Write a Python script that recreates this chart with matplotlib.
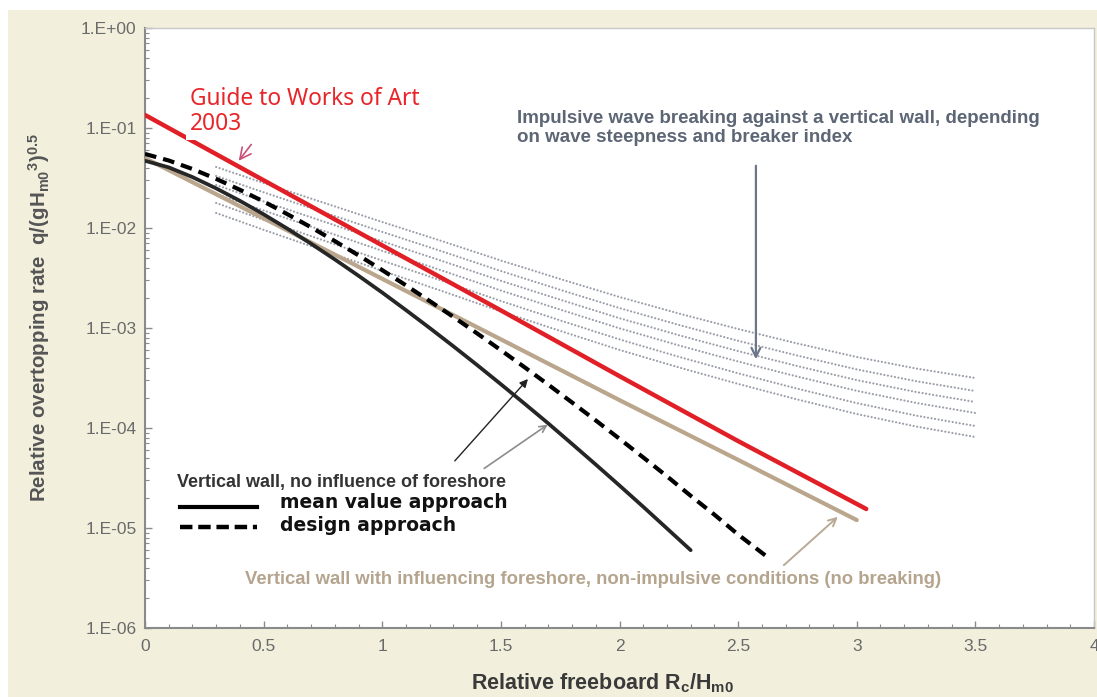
import numpy as np
import matplotlib
matplotlib.use("Agg")
import matplotlib.pyplot as plt
from matplotlib.patches import Rectangle
from matplotlib.ticker import FixedLocator, MultipleLocator, LogLocator, NullFormatter

plt.rcParams['font.family'] = ['Liberation Sans', 'DejaVu Sans']
plt.rcParams['mathtext.fontset'] = 'custom'
plt.rcParams['mathtext.rm'] = 'Liberation Sans:bold'
plt.rcParams['mathtext.it'] = 'Liberation Sans:bold'
plt.rcParams['mathtext.bf'] = 'Liberation Sans:bold'
plt.rcParams['mathtext.default'] = 'rm'

# red line: Guide to Works of Art 2003
gwa_x = [0, 0.5, 1.0, 1.5, 2.0, 2.5, 3.04]
gwa_q = [0.135, 0.030, 0.0067, 0.0015, 3.3e-4, 7.4e-5, 1.55e-5]

# vertical wall, no foreshore influence - mean value approach
mean_x = [0, 0.1, 0.2, 0.3, 0.4, 0.5, 0.6, 0.7, 0.8, 0.9, 1.0, 1.1, 1.2,
          1.3, 1.4, 1.5, 1.6, 1.7, 1.8, 1.9, 2.0, 2.1, 2.2, 2.3]
mean_q = [0.047, 0.0404, 0.0323, 0.0249, 0.0187, 0.0137, 0.00985, 0.00696, 0.00485, 0.00333,
          0.00226, 0.00151, 0.00100, 6.56e-4, 4.26e-4, 2.74e-4, 1.75e-4, 1.11e-4, 6.93e-5,
          4.31e-5, 2.66e-5, 1.63e-5, 9.9e-6, 6.0e-6]

# vertical wall, no foreshore influence - design approach
design_x = [0, 0.1, 0.2, 0.3, 0.4, 0.5, 0.6, 0.7, 0.8, 0.9, 1.0, 1.1, 1.2, 1.3,
            1.4, 1.5, 1.6, 1.7, 1.8, 1.9, 2.0, 2.1, 2.2, 2.3, 2.4, 2.5, 2.62]
design_q = [0.055, 0.0473, 0.0389, 0.0310, 0.0241, 0.0184, 0.01376, 0.01016, 0.0074, 0.00533,
            0.00379, 0.00267, 0.00186, 0.00129, 8.83e-4, 6.0e-4, 4.05e-4, 2.71e-4, 1.80e-4,
            1.19e-4, 7.8e-5, 5.08e-5, 3.29e-5, 2.1e-5, 1.36e-5, 8.6e-6, 5.2e-6]

# vertical wall with influencing foreshore (non-impulsive)
fore_x = [0, 0.5, 1.0, 1.5, 2.0, 2.5, 3.0]
fore_q = [0.05, 0.0125, 3.1e-3, 7.7e-4, 1.9e-4, 4.8e-5, 1.2e-5]

# impulsive breaking, family of dotted curves (log10 of q)
imp_x = [0.3, 0.5, 0.75, 1.0, 1.25, 1.5, 1.75, 2.0, 2.25, 2.5, 2.75, 3.0, 3.25, 3.5]
imp_log1 = [-1.390, -1.550, -1.745, -1.940, -2.130, -2.325, -2.510, -2.690, -2.855, -3.010, -3.155, -3.290, -3.405, -3.500]
imp_log2 = [-1.480, -1.643, -1.841, -2.039, -2.232, -2.430, -2.618, -2.801, -2.969, -3.128, -3.276, -3.414, -3.532, -3.630]
imp_log3 = [-1.570, -1.734, -1.933, -2.133, -2.328, -2.528, -2.717, -2.902, -3.072, -3.231, -3.381, -3.521, -3.640, -3.740]
imp_log4 = [-1.660, -1.825, -2.026, -2.228, -2.424, -2.625, -2.816, -3.003, -3.174, -3.335, -3.486, -3.628, -3.749, -3.850]
imp_log5 = [-1.750, -1.918, -2.122, -2.326, -2.526, -2.730, -2.924, -3.114, -3.288, -3.453, -3.607, -3.751, -3.876, -3.980]
imp_log6 = [-1.850, -2.018, -2.223, -2.428, -2.629, -2.834, -3.029, -3.219, -3.394, -3.559, -3.715, -3.860, -3.985, -4.090]

x_ticks = [0, 0.5, 1, 1.5, 2, 2.5, 3, 3.5, 4]
x_labels = ['0', '0.5', '1', '1.5', '2', '2.5', '3', '3.5', '4']
y_ticks = [1e-6, 1e-5, 1e-4, 1e-3, 1e-2, 1e-1, 1]
y_labels = ['1.E-06', '1.E-05', '1.E-04', '1.E-03', '1.E-02', '1.E-01', '1.E+00']

beige = '#f2f0dd'
fig = plt.figure(figsize=(10.97, 6.97), dpi=100, facecolor='white')
fig.patches.append(Rectangle((8 / 1097, 0), 1, 1 - 10 / 697, transform=fig.transFigure,
                             facecolor=beige, edgecolor='none', zorder=-10))
ax = fig.add_axes([145 / 1097, 1 - 628 / 697, 949 / 1097, 600 / 697])
ax.set_facecolor('white')

for lg in [imp_log1, imp_log2, imp_log3, imp_log4, imp_log5, imp_log6]:
    ax.plot(imp_x, 10 ** np.array(lg), color='#999ea8', lw=1.6, linestyle=(0, (0.01, 1.6)),
            dash_capstyle='round', zorder=2)

ax.plot(fore_x, fore_q, color='#b9a68c', lw=3.0, solid_capstyle='round', zorder=3)
ax.plot(mean_x, mean_q, color='#262626', lw=2.7, solid_capstyle='round', zorder=4)
ax.plot(design_x, design_q, color='black', lw=3.0, linestyle=(0, (2.8, 1.7)), zorder=4)
ax.plot(gwa_x, gwa_q, color='#e01f26', lw=3.2, solid_capstyle='round', zorder=5)

ax.set_yscale('log')
ax.set_xlim(0, 4)
ax.set_ylim(1e-6, 1)
ax.xaxis.set_major_locator(FixedLocator(x_ticks))
ax.set_xticklabels(x_labels)
ax.xaxis.set_minor_locator(MultipleLocator(0.1))
ax.yaxis.set_major_locator(FixedLocator(y_ticks))
ax.set_yticklabels(y_labels)
ax.yaxis.set_minor_locator(LogLocator(base=10, subs=np.arange(2, 10), numticks=20))
ax.yaxis.set_minor_formatter(NullFormatter())
ax.tick_params(which='both', direction='in', color='#8a8a8a', top=False, right=False)
ax.tick_params(which='major', length=5, width=1, labelsize=12.5, labelcolor='#6a6a6a')
ax.tick_params(axis='y', which='major', pad=6)
ax.tick_params(axis='x', which='major', pad=8)
ax.tick_params(which='minor', length=3, width=0.8)
for side in ['left', 'bottom']:
    ax.spines[side].set_color('#8a8a8a')
    ax.spines[side].set_linewidth(1.5)
for side in ['top', 'right']:
    ax.spines[side].set_color('#c8c8c8')
    ax.spines[side].set_linewidth(1.0)

ax.set_xlabel('Relative freeboard R$_c$/H$_{m0}$', fontsize=15.5, fontweight='bold', color='#3a3a3a')
ax.xaxis.set_label_coords(0.482, -0.072)
ax.set_ylabel('Relative overtopping rate  q/(gH$_{m0}$$^3$)$^{0.5}$', fontsize=14.8,
              fontweight='bold', color='#555555')
ax.yaxis.set_label_coords(-0.098, 0.517)

# red label
ax.text(0.19, 0.26, 'Guide to Works of Art\n2003', color='#e8262a', fontsize=16.4,
        family=['Noto Sans', 'DejaVu Sans'], ha='left', va='top', linespacing=1.1,
        bbox=dict(facecolor='white', edgecolor='none', pad=3), zorder=6)
ax.annotate('', xy=(0.388, 0.0447), xytext=(0.455, 0.072),
            arrowprops=dict(arrowstyle='->', color='#c8507a', lw=1.2, mutation_scale=20), zorder=6)

# impulsive label
ax.text(1.568, 0.152, 'Impulsive wave breaking against a vertical wall, depending\non wave steepness and breaker index',
        color='#5d6675', fontsize=13.5, fontweight='bold', ha='left', va='top', linespacing=1.15)
ax.annotate('', xy=(2.575, 4.57e-4), xytext=(2.575, 0.0447),
            arrowprops=dict(arrowstyle='->', color='#6b7689', lw=1.6, mutation_scale=16))

# legend block (drawn by hand as in the original)
ax.text(0.135, 2.82e-5, 'Vertical wall, no influence of foreshore', color='#333333',
        fontsize=13, fontweight='bold', ha='left', va='center')
ax.plot([0.147, 0.472], [1.62e-5, 1.62e-5], color='black', lw=3.0)
ax.plot([0.147, 0.472], [1.02e-5, 1.02e-5], color='black', lw=3.2, linestyle=(0, (2.8, 1.3)))
ax.text(0.569, 1.78e-5, 'mean value approach', color='#111111', fontsize=13.5,
        family=['DejaVu Sans'], fontweight='bold', ha='left', va='center')
ax.text(0.569, 1.07e-5, 'design approach', color='#111111', fontsize=13.5,
        family=['DejaVu Sans'], fontweight='bold', ha='left', va='center')
ax.annotate('', xy=(1.622, 3.24e-4), xytext=(1.298, 4.47e-5),
            arrowprops=dict(arrowstyle='-|>', color='#222222', lw=1.0, mutation_scale=12))
ax.annotate('', xy=(1.707, 1.12e-4), xytext=(1.42, 3.8e-5),
            arrowprops=dict(arrowstyle='->', color='#8c8c8c', lw=1.2, mutation_scale=12))

# foreshore label
ax.text(0.42, 3.09e-6, 'Vertical wall with influencing foreshore, non-impulsive conditions (no breaking)',
        color='#b5a48e', fontsize=13.3, fontweight='bold', ha='left', va='center')
ax.annotate('', xy=(2.929, 1.35e-5), xytext=(2.684, 4.07e-6),
            arrowprops=dict(arrowstyle='->', color='#b9a996', lw=1.4, mutation_scale=14))

fig.savefig('out.png', dpi=100, facecolor=fig.get_facecolor())
